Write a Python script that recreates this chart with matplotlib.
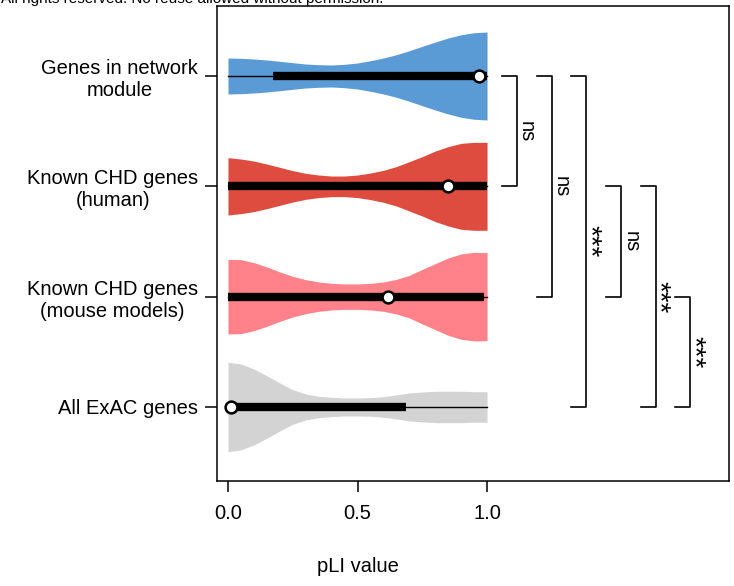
import numpy as np
import matplotlib.pyplot as plt

plt.rcParams['font.family'] = ['Liberation Sans', 'DejaVu Sans']

# groups, top to bottom
groups = ["Genes in network\nmodule", "Known CHD genes\n(human)",
          "Known CHD genes\n(mouse models)", "All ExAC genes"]
colors = ["#5B9BD5", "#DE4C3F", "#FF8189", "#D3D3D3"]

# pLI grid where the violin outlines were read (0.00, 0.05, ... 1.00)
pli_grid = [0.00, 0.05, 0.10, 0.15, 0.20, 0.25, 0.30, 0.35, 0.40, 0.45, 0.50,
            0.55, 0.60, 0.65, 0.70, 0.75, 0.80, 0.85, 0.90, 0.95, 1.00]

# relative density (violin half width)
dens_network = [18.0, 17.7, 17.0, 16.0, 14.7, 13.3, 12.0, 11.3, 11.0, 11.7, 13.0,
                15.3, 18.0, 21.3, 25.3, 29.7, 34.0, 38.0, 41.3, 43.3, 44.0]
dens_human = [28.7, 27.3, 25.3, 22.3, 19.0, 15.7, 13.0, 11.3, 10.3, 10.3, 11.3,
              13.3, 16.0, 19.7, 24.7, 29.7, 35.3, 39.7, 43.0, 44.0, 44.0]
dens_mouse = [37.3, 37.0, 34.0, 29.7, 24.7, 20.3, 17.0, 14.7, 13.3, 12.7, 12.7,
              13.3, 14.7, 17.3, 21.3, 27.3, 33.0, 38.7, 42.7, 44.3, 44.0]
dens_exac = [44.7, 43.0, 38.0, 31.3, 24.0, 17.3, 13.0, 10.7, 9.7, 9.0, 9.0,
             9.3, 10.3, 12.0, 14.0, 15.0, 15.7, 15.7, 15.7, 15.3, 15.3]
densities = [dens_network, dens_human, dens_mouse, dens_exac]

# box statistics: whisker low, q1, median, q3, whisker high
whisk_lo = [0.0, 0.0, 0.0, 0.0]
q1 = [0.175, 0.0, 0.0, 0.0]
median = [0.968, 0.85, 0.618, 0.012]
q3 = [1.0, 1.0, 0.99, 0.686]
whisk_hi = [1.0, 1.0, 1.0, 1.0]

# pairwise tests (group a, group b, label)
comparisons = [(0, 1, "ns"), (0, 2, "ns"), (0, 3, "***"),
               (1, 2, "ns"), (1, 3, "***"), (2, 3, "***")]

ypos = [4, 3, 2, 1]
max_half = 0.405

fig = plt.figure(figsize=(7.34, 5.86), dpi=100)
ax = fig.add_axes([0.2956, 0.1792, 0.6976, 0.8114])

dmax = max(max(d) for d in densities)
for i in range(4):
    hw = np.array(densities[i]) / dmax * max_half
    ax.fill_between(pli_grid, ypos[i] - hw, ypos[i] + hw, color=colors[i], lw=0)
    ax.plot([whisk_lo[i], whisk_hi[i]], [ypos[i]] * 2, color="black", lw=1.0)
    ax.plot([q1[i], q3[i]], [ypos[i]] * 2, color="black", lw=6, solid_capstyle="butt")
    ax.plot(median[i], ypos[i], "o", ms=8.5, mfc="white", mec="black", mew=1.8)

# significance brackets
tick = 0.058
for k, (a, b, lab) in enumerate(comparisons):
    x0 = 1.057 + k * 0.134
    ya, yb = ypos[a], ypos[b]
    ax.plot([x0, x0 + tick, x0 + tick, x0], [ya, ya, yb, yb], color="black", lw=1.2)
    if lab == "ns":
        ax.text(x0 + tick + 0.038, (ya + yb) / 2, lab, rotation=270,
                ha="center", va="center", fontsize=14.5)
    else:
        ax.text(x0 + tick + 0.012, (ya + yb) / 2, lab, rotation=270,
                ha="center", va="center", fontsize=20)

ax.set_xlim(-0.0425, 1.934)
ax.set_ylim(0.329, 4.639)
ax.set_xticks([0, 0.5, 1.0])
ax.set_xticklabels(["0.0", "0.5", "1.0"])
ax.set_yticks(ypos)
ax.set_yticklabels(groups, multialignment="center")
ax.tick_params(axis="both", labelsize=14.5, width=1.1)
ax.tick_params(axis="y", length=9, pad=4.5)
ax.tick_params(axis="x", length=8, pad=8.5)
for s in ax.spines.values():
    s.set_linewidth(1.1)

ax.set_xlabel("pLI value", fontsize=14.5)
ax.xaxis.set_label_coords(0.2744, -0.180)
ax.xaxis.label.set_va("center")

fig.text(0.002, 1 - 3.3 / 586, "All rights reserved. No reuse allowed without permission.",
         fontsize=11, va="baseline", ha="left")

fig.savefig("out.png", dpi=100)
